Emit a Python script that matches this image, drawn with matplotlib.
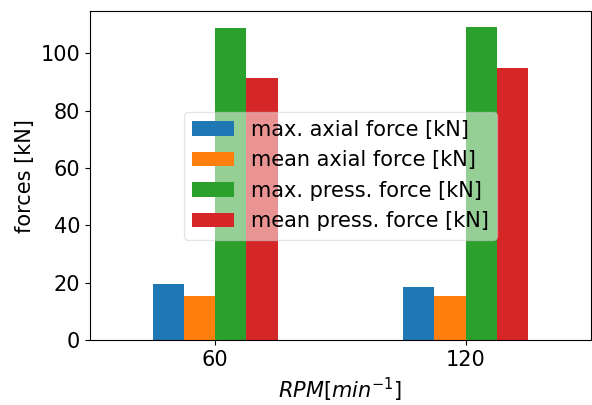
import numpy as np
import pandas as pd
import matplotlib
matplotlib.use("Agg")
import matplotlib.pyplot as plt

rpm = [60, 120]
max_axial = [19.7, 18.6]
mean_axial = [15.5, 15.5]
max_press = [108.7, 109.3]
mean_press = [91.3, 94.8]

df = pd.DataFrame({
    "max. axial force [kN]": max_axial,
    "mean axial force [kN]": mean_axial,
    "max. press. force [kN]": max_press,
    "mean press. force [kN]": mean_press,
}, index=rpm)

plt.rcParams['font.size'] = 15

fig, ax = plt.subplots(figsize=(5.92, 4.05), dpi=100)
fig.subplots_adjust(left=0.152, right=0.998, bottom=0.16, top=0.973)

df.plot.bar(ax=ax, rot=0)
ax.set_xlabel(r'$RPM[min^{-1}]$')
ax.set_ylabel('forces [kN]')
ax.legend(loc='center', framealpha=0.5)

fig.savefig("out.png", dpi=100)
